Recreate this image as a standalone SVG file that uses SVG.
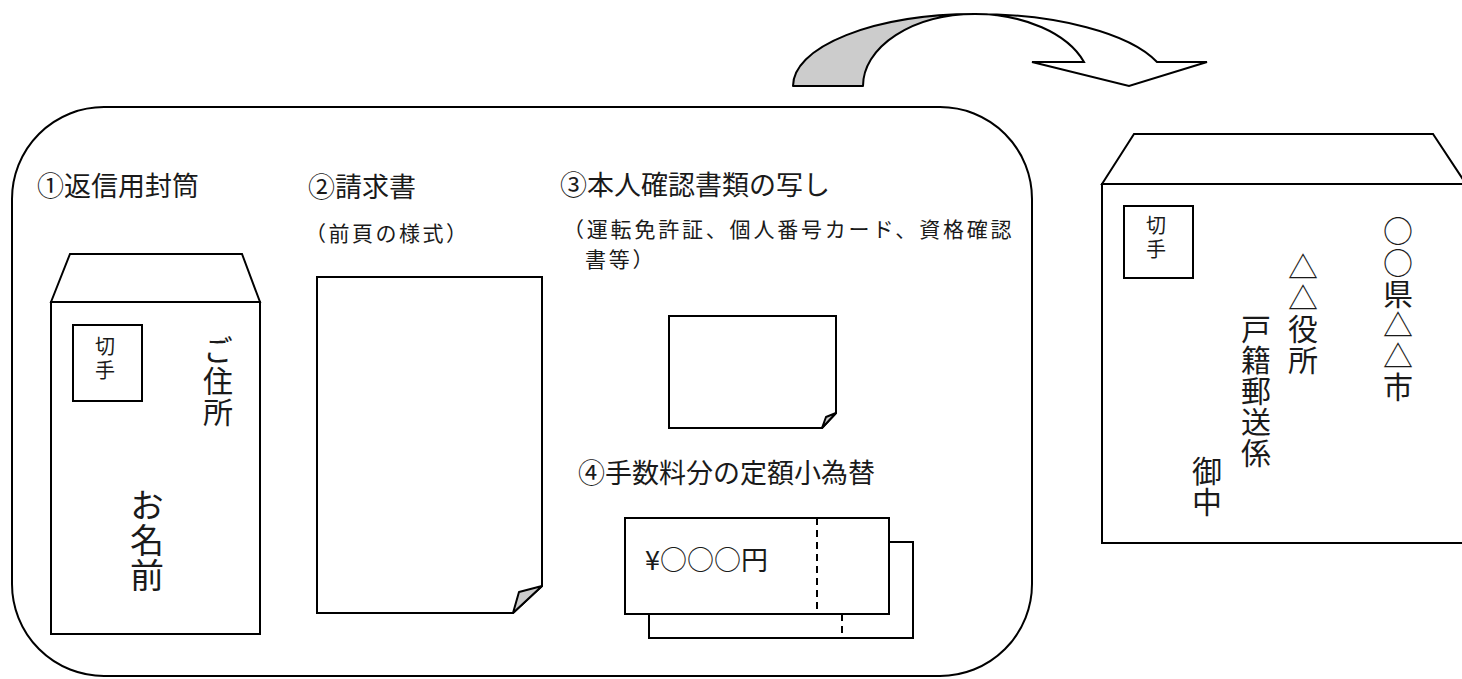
<svg xmlns="http://www.w3.org/2000/svg" width="1462" height="679" viewBox="0 0 1462 679">
<style>
.ln{fill:none;stroke:#000;stroke-width:2;stroke-linejoin:miter}
.wf{fill:#fff;stroke:#000;stroke-width:2}
.gf{fill:#cccccc;stroke:#000;stroke-width:2;stroke-linejoin:round}
.t{font-family:"Noto Sans CJK JP","Noto Sans CJK SC",sans-serif;fill:#1a1a1a}
.v{writing-mode:vertical-rl;text-orientation:upright}
.dash{fill:none;stroke:#000;stroke-width:2;stroke-dasharray:7,5}
</style>
<rect fill="#fff" x="0" y="0" width="1462" height="679"/>

<g id="connectors">
<path class="gf" d="M793,86 A182,72 0 0 1 975,14 A112,72 0 0 0 863,86 Z"/>
<path class="wf" d="M975,14 A193,72 0 0 1 1157,62 L1207,62 L1129,86 L1032,62 L1084,62 A116,72 0 0 0 975,14 Z"/>
</g>

<g id="frame">
<rect class="ln" x="12" y="107" width="1020" height="569" rx="92" ry="92"/>
</g>

<g id="item1">
<text class="t" x="37" y="196" font-size="27">①返信用封筒</text>
<path class="ln" d="M51,302 L70,254 H242 L260,302 Z"/>
<rect class="ln" x="51" y="302" width="209" height="332"/>
<rect class="ln" x="73" y="325" width="69" height="76"/>
<text class="t v" x="105" y="336" font-size="20" letter-spacing="4">切手</text>
<text class="t v" x="218" y="335" font-size="30" letter-spacing="1">ご住所</text>
<text class="t v" x="147" y="488" font-size="34" letter-spacing="1">お名前</text>
</g>

<g id="item2">
<text class="t" x="308" y="197" font-size="27">②請求書</text>
<text class="t" x="305" y="241" font-size="21" letter-spacing="2.5">（前頁の様式）</text>
<path class="wf" d="M317,277 H542 V586 L513,613 H317 Z"/>
<path class="gf" d="M513,613 L519,592 L542,586 Z"/>
</g>

<g id="item3">
<text class="t" x="560" y="195" font-size="27">③本人確認書類の写し</text>
<text class="t" x="563" y="237" font-size="21" letter-spacing="2.8">（運転免許証、個人番号カード、資格確認</text>
<text class="t" x="585" y="267" font-size="21" letter-spacing="2.8">書等）</text>
<path class="wf" d="M669,316 H836 V413 L822,428 H669 Z"/>
<path class="gf" d="M822,428 L826,417 L836,413 Z"/>
</g>

<g id="item4">
<text class="t" x="578" y="483" font-size="27">④手数料分の定額小為替</text>
<rect class="wf" x="649" y="542" width="264" height="96"/>
<line class="dash" x1="842" y1="614" x2="842" y2="638"/>
<rect class="wf" x="625" y="518" width="264" height="96"/>
<line class="dash" x1="817" y1="518" x2="817" y2="614"/>
<text class="t" x="645" y="570" font-size="27">¥○○○円</text>
</g>

<g id="envelope">
<path class="ln" d="M1102,184 L1134,134 H1433 L1466,184 Z"/>
<rect class="ln" x="1102" y="184" width="370" height="359"/>
<rect class="ln" x="1124" y="206" width="69" height="72"/>
<text class="t v" x="1156" y="215" font-size="20" letter-spacing="4">切手</text>
<text class="t v" x="1398" y="216" font-size="30" letter-spacing="1.2">○○県△△市</text>
<text class="t v" x="1303" y="252" font-size="30" letter-spacing="1">△△役所</text>
<text class="t v" x="1256" y="314" font-size="30" letter-spacing="1">戸籍郵送係</text>
<text class="t v" x="1207" y="456" font-size="30" letter-spacing="1">御中</text>
</g>
</svg>
